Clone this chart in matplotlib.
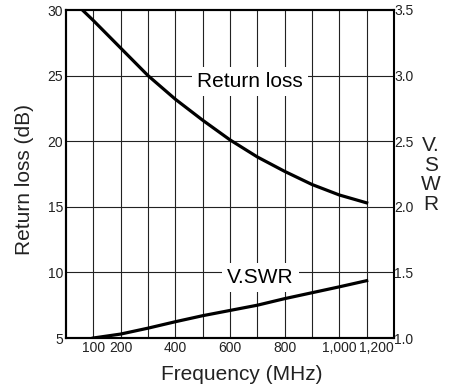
import matplotlib.pyplot as plt

# datos
freq_rl = [60, 100, 200, 300, 400, 500, 600, 700, 800, 900, 1000, 1100]
return_loss = [30.0, 29.2, 27.1, 25.0, 23.2, 21.6, 20.1, 18.8, 17.7, 16.7, 15.9, 15.3]

freq_vswr = [100, 200, 300, 400, 500, 600, 700, 800, 900, 1000, 1100]
vswr = [1.0, 1.03, 1.075, 1.124, 1.17, 1.21, 1.25, 1.30, 1.345, 1.39, 1.437]

x_ticks = [100, 200, 400, 600, 800, 1000, 1200]
x_labels = ["100", "200", "400", "600", "800", "1,000", "1,200"]
rl_ticks = [5, 10, 15, 20, 25, 30]
vswr_ticks = [1.0, 1.5, 2.0, 2.5, 3.0, 3.5]

big = ['Liberation Sans', 'DejaVu Sans']
narrow = ['Liberation Sans Narrow', 'Liberation Sans', 'DejaVu Sans']

fig = plt.figure(figsize=(4.54, 3.91), dpi=100)
ax = fig.add_axes([66 / 454, 53 / 391, 328 / 454, 328 / 391])
ax2 = ax.twinx()

# rejilla
for xv in range(100, 1200, 100):
    ax.axvline(xv, color='#222222', lw=0.8, zorder=1)
for yv in rl_ticks[1:-1]:
    ax.axhline(yv, color='#222222', lw=0.8, zorder=1)

ax.plot(freq_rl, return_loss, color='black', lw=2.3, zorder=3, clip_on=True)
ax2.plot(freq_vswr, vswr, color='black', lw=2.3, zorder=3)

ax.set_xlim(0, 1200)
ax.set_ylim(5, 30)
ax2.set_ylim(1.0, 3.5)

ax.set_xticks(x_ticks)
ax.set_xticklabels(x_labels, family=narrow, fontsize=10, color='#222222')
ax.get_xticklabels()[-1].set_horizontalalignment('right')
ax.set_yticks(rl_ticks)
ax.set_yticklabels([str(v) for v in rl_ticks], family=narrow, fontsize=10, color='#222222')
ax2.set_yticks(vswr_ticks)
ax2.set_yticklabels(['%.1f' % v for v in vswr_ticks], family=narrow, fontsize=10, color='#222222')

ax.tick_params(axis='x', length=0, pad=2)
ax.tick_params(axis='y', length=0, pad=2)
ax2.tick_params(axis='y', length=0, pad=0)

for a in (ax, ax2):
    for s in a.spines.values():
        s.set_linewidth(1.5)
        s.set_color('black')
ax2.spines['right'].set_linewidth(1.2)

# etiquetas dentro del grafico
ax2.text(673, 1.0 + (24.55 - 5) / 10, 'Return loss', family=big, fontsize=15,
         ha='center', va='center', zorder=10,
         bbox=dict(boxstyle='square,pad=0.25', fc='white', ec='none'))
ax2.text(710, 1.0 + (9.61 - 5) / 10, 'V.SWR', family=big, fontsize=15,
         ha='center', va='center', zorder=10,
         bbox=dict(boxstyle='square,pad=0.25', fc='white', ec='none'))

fig.text(25 / 454, 1 - 180 / 391, 'Return loss (dB)', family=big, fontsize=15,
         rotation=90, ha='center', va='center', color='#222222')
fig.text(431 / 454, 1 - 175 / 391, 'V.\nS\nW\nR', family=big, fontsize=15,
         ha='center', va='center', linespacing=1.05, color='#222222')
fig.text(242 / 454, 1 - 375 / 391, 'Frequency (MHz)', family=big, fontsize=15,
         ha='center', va='center', color='#222222')

plt.savefig('out.png', dpi=100)
